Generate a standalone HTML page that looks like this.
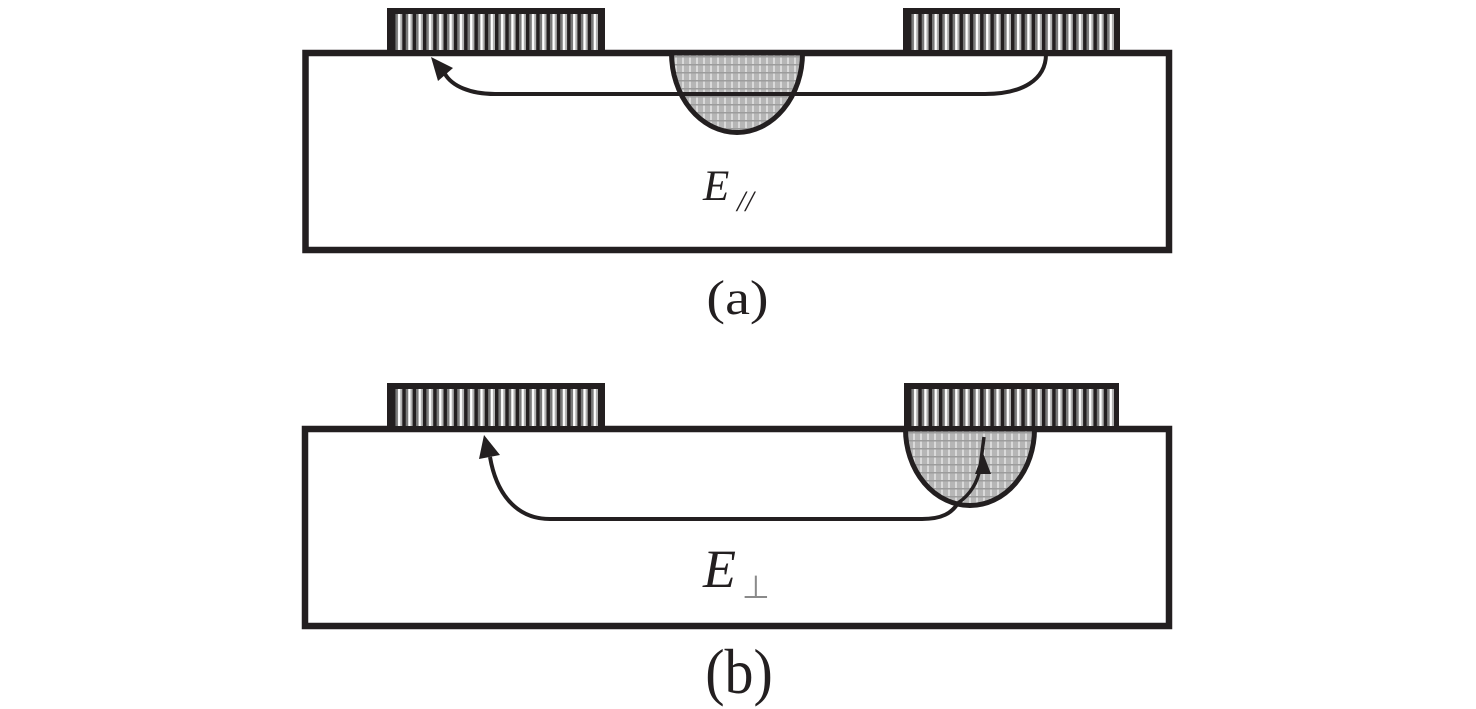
<!DOCTYPE html>
<html>
<head>
<meta charset="utf-8">
<style>
  html, body { margin:0; padding:0; background:#fff; }
  svg { display:block; }
  .serif { font-family: "Liberation Serif", "Times New Roman", serif; }
  .it { font-family: "Liberation Serif", "Times New Roman", serif; font-style: italic; }
  .sym { font-family: "DejaVu Sans", sans-serif; }
</style>
</head>
<body>
<svg width="1476" height="709" viewBox="0 0 1476 709" xmlns="http://www.w3.org/2000/svg">
  <defs>
    <pattern id="stripes" patternUnits="userSpaceOnUse" x="392" y="0" width="10.3" height="50">
      <rect x="0" y="0" width="10.3" height="50" fill="#b0b0b0"/>
      <rect x="0" y="0" width="3.6" height="50" fill="#231f20"/>
      <rect x="3.6" y="0" width="2.4" height="50" fill="#7a7a7a"/>
      <rect x="6" y="0" width="2.2" height="50" fill="#ffffff"/>
    </pattern>
    <pattern id="stripes2" patternUnits="userSpaceOnUse" x="908" y="0" width="10.3" height="50">
      <rect x="0" y="0" width="10.3" height="50" fill="#b0b0b0"/>
      <rect x="0" y="0" width="3.6" height="50" fill="#231f20"/>
      <rect x="3.6" y="0" width="2.4" height="50" fill="#7a7a7a"/>
      <rect x="6" y="0" width="2.2" height="50" fill="#ffffff"/>
    </pattern>
    <pattern id="hatch" patternUnits="userSpaceOnUse" width="7" height="8">
      <rect x="0" y="0" width="7" height="8" fill="#b6b6b6"/>
      <rect x="3" y="0" width="2" height="8" fill="#dadada"/>
      <rect x="0" y="0" width="7" height="1.5" fill="#9c9c9c"/>
    </pattern>
  </defs>

  <!-- ================= Panel (a) ================= -->
  <rect x="305.5" y="53" width="863.5" height="197" fill="#fff" stroke="#231f20" stroke-width="6.5"/>
  <path d="M 671.5 53 A 65.5 79.5 0 0 0 802.5 53 Z" fill="url(#hatch)" stroke="#231f20" stroke-width="5"/>
  <rect x="387" y="8" width="218" height="46" fill="#231f20"/>
  <rect x="392" y="14" width="208" height="36" fill="url(#stripes)"/>
  <rect x="903" y="8" width="217" height="46" fill="#231f20"/>
  <rect x="908" y="14" width="207" height="36" fill="url(#stripes2)"/>
  <path d="M 1046 54 C 1046 80, 1022 94, 985 94 L 495 94 C 470 94, 452 86, 445 74" fill="none" stroke="#231f20" stroke-width="4"/>
  <polygon points="431,57 453,68 438,81" fill="#231f20"/>
  <text class="it" x="703" y="200" style="font-size:43px" fill="#231f20">E</text>
  <text class="it" x="737" y="211" style="font-size:30px" fill="#231f20">//</text>
  <g transform="translate(737.5,314) scale(1,0.86)">
    <text class="serif" x="0" y="0" text-anchor="middle" style="font-size:56px" fill="#231f20">(a)</text>
  </g>

  <!-- ================= Panel (b) ================= -->
  <rect x="305" y="429" width="864" height="197" fill="#fff" stroke="#231f20" stroke-width="6.5"/>
  <path d="M 905.5 429 A 64.5 76.5 0 0 0 1034.5 429 Z" fill="url(#hatch)" stroke="#231f20" stroke-width="5"/>
  <rect x="387" y="383" width="218" height="47" fill="#231f20"/>
  <rect x="392" y="389" width="208" height="37" fill="url(#stripes)"/>
  <rect x="904" y="383" width="215" height="47" fill="#231f20"/>
  <rect x="909" y="389" width="205" height="37" fill="url(#stripes2)"/>
  <path d="M 958 503 C 952 513, 942 519, 922 519 L 550 519 C 515 519, 496 492, 490 457" fill="none" stroke="#231f20" stroke-width="4"/>
  <polygon points="484,435 500,455 479,459" fill="#231f20"/>
  <path d="M 958 503 C 970 495, 978 482, 980 468 L 984 437" fill="none" stroke="#231f20" stroke-width="3.5"/>
  <polygon points="983,453 991,474 975,474" fill="#231f20"/>
  <text class="it" x="703" y="587" style="font-size:54px" fill="#231f20">E</text>
  <text class="sym" x="742" y="598" style="font-size:32px" fill="#8a8a8a">⊥</text>
  <g transform="translate(739,693) scale(1,1.1)">
    <text class="serif" x="0" y="0" text-anchor="middle" style="font-size:58px" fill="#231f20">(b)</text>
  </g>
</svg>
</body>
</html>
